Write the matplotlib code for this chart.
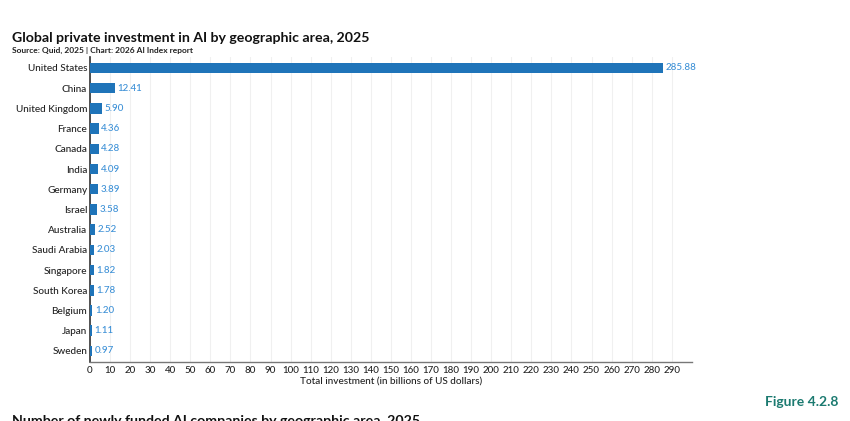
import matplotlib
matplotlib.use("Agg")
import matplotlib.pyplot as plt

countries = ["United States", "China", "United Kingdom", "France", "Canada", "India",
             "Germany", "Israel", "Australia", "Saudi Arabia", "Singapore", "South Korea",
             "Belgium", "Japan", "Sweden"]
values = [285.88, 12.41, 5.90, 4.36, 4.28, 4.09, 3.89, 3.58, 2.52, 2.03, 1.82, 1.78,
          1.20, 1.11, 0.97]
xticks = list(range(0, 300, 10))

plt.rcParams['font.family'] = ['Lato', 'DejaVu Sans']

fig = plt.figure(figsize=(8.5, 4.21), dpi=100)
ax = fig.add_axes([0.1059, 0.140, 0.708, 0.725])

bar_color = "#1f74b9"
label_color = "#3a8fd6"
ypos = list(range(len(countries)))
ax.barh(ypos, values, height=0.52, color=bar_color, zorder=3)
for y, v in zip(ypos, values):
    ax.text(v + 1.2, y, f"{v:.2f}", va="center", ha="left", fontsize=7, color=label_color,
            fontweight="medium")

ax.set_yticks(ypos)
ax.set_yticklabels(countries, fontsize=7.2, color="#222222", fontweight="medium")
ax.set_ylim(len(countries) - 0.45, -0.55)
ax.set_xlim(0, 300)
ax.set_xticks(xticks)
ax.set_xticklabels([str(t) for t in xticks], fontsize=7, color="#222222", fontweight="medium")
ax.tick_params(axis="both", length=0, pad=3)
ax.tick_params(axis="y", pad=2)
ax.set_xlabel("Total investment (in billions of US dollars)", fontsize=7.2, color="#222222",
              labelpad=2, fontweight="medium")
ax.grid(axis="x", color="#f0f0f0", linewidth=0.8, zorder=0)
for s in ["top", "right"]:
    ax.spines[s].set_visible(False)
ax.spines["left"].set_color("#333333")
ax.spines["left"].set_linewidth(1.2)
ax.spines["bottom"].set_color("#777777")
ax.spines["bottom"].set_linewidth(1.0)

fig.text(12/850, 1 - 38/421, "Global private investment in AI by geographic area, 2025",
         fontsize=10.2, fontweight="bold", color="#111111", va="center", ha="left")
fig.text(12/850, 1 - 50.5/421, "Source: Quid, 2025 | Chart: 2026 AI Index report",
         fontsize=6.0, fontweight="bold", color="#222222", va="center", ha="left")
fig.text(838/850, 1 - 402/421, "Figure 4.2.8", fontsize=10, fontweight="bold",
         color="#1b7a70", va="center", ha="right")
fig.text(12/850, 1 - 421/421, "Number of newly funded AI companies by geographic area, 2025",
         fontsize=10.2, fontweight="bold", color="#111111", va="center", ha="left")

fig.savefig("out.png", dpi=100, facecolor="white")
